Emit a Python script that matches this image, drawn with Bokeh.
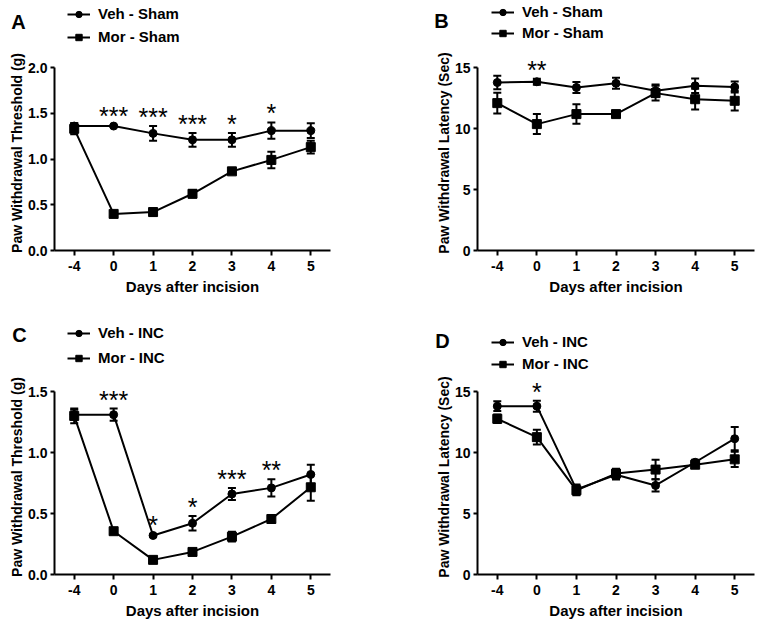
from bokeh.plotting import figure
from bokeh.models import (ColumnDataSource, Whisker, TeeHead, Legend, LegendItem, Label,
                          FactorRange, Range1d, FixedTicker, NumeralTickFormatter)
from bokeh.layouts import column, row
from bokeh.embed import file_html
from bokeh.resources import INLINE
from bokeh.core.properties import value

days = ["-4", "0", "1", "2", "3", "4", "5"]

# Panel A: Paw withdrawal threshold (g), sham
a_veh = [1.36, 1.36, 1.28, 1.21, 1.21, 1.31, 1.31]
a_veh_sem = [0.03, 0.01, 0.08, 0.075, 0.075, 0.09, 0.08]
a_mor = [1.33, 0.40, 0.42, 0.62, 0.865, 0.99, 1.13]
a_mor_sem = [0.06, 0.03, 0.04, 0.04, 0.02, 0.09, 0.07]
a_stars = ["", "***", "***", "***", "*", "*", ""]

# Panel B: Paw withdrawal latency (Sec), sham
b_veh = [13.77, 13.83, 13.36, 13.70, 13.10, 13.50, 13.40]
b_veh_sem = [0.55, 0.25, 0.45, 0.45, 0.50, 0.60, 0.45]
b_mor = [12.08, 10.36, 11.18, 11.18, 12.90, 12.40, 12.27]
b_mor_sem = [0.86, 0.82, 0.80, 0.25, 0.60, 0.85, 0.80]
b_stars = ["", "**", "", "", "", "", ""]

# Panel C: Paw withdrawal threshold (g), incision
c_veh = [1.31, 1.31, 0.32, 0.42, 0.66, 0.71, 0.82]
c_veh_sem = [0.04, 0.05, 0.01, 0.06, 0.05, 0.07, 0.08]
c_mor = [1.30, 0.355, 0.12, 0.185, 0.31, 0.455, 0.715]
c_mor_sem = [0.06, 0.02, 0.015, 0.025, 0.04, 0.03, 0.11]
c_stars = ["", "***", "*", "*", "***", "**", ""]

# Panel D: Paw withdrawal latency (Sec), incision
d_veh = [13.80, 13.80, 6.98, 8.18, 7.30, 9.20, 11.13]
d_veh_sem = [0.40, 0.45, 0.40, 0.40, 0.50, 0.20, 0.95]
d_mor = [12.76, 11.26, 6.90, 8.27, 8.60, 9.00, 9.44]
d_mor_sem = [0.35, 0.60, 0.40, 0.40, 0.80, 0.20, 0.62]
d_stars = ["", "*", "", "", "", "", ""]

sham_names = ["Veh - Sham", "Mor - Sham"]
inc_names = ["Veh - INC", "Mor - INC"]

FONT = "Liberation Sans"
W = 762
AXIS_PX = 183      # pixel length of the drawn y axis (0 .. ymax)
HEADROOM_PX = 12   # room above the axis top for significance stars


def panel(ylabel, ymax, yticks, fmt, veh, veh_sem, mor, mor_sem, stars,
          frame_w, bl, br, bt, bb):
    top = ymax * (AXIS_PX + HEADROOM_PX) / AXIS_PX
    p = figure(x_range=FactorRange(*days), y_range=Range1d(0, top),
               frame_width=frame_w, frame_height=AXIS_PX + HEADROOM_PX,
               min_border_left=bl, min_border_right=br,
               min_border_top=bt, min_border_bottom=bb,
               output_backend="svg", toolbar_location=None)
    p.outline_line_color = None
    p.grid.visible = False

    for ax in (p.xaxis[0], p.yaxis[0]):
        ax.axis_line_width = 2
        ax.axis_line_color = "black"
        ax.major_tick_line_width = 2
        ax.major_tick_line_color = "black"
        ax.major_tick_in = 0
        ax.minor_tick_line_color = None
        ax.major_label_text_font = FONT
        ax.major_label_text_font_style = "bold"
        ax.major_label_text_font_size = "14px"
        ax.major_label_text_color = "black"
        ax.axis_label_text_font = FONT
        ax.axis_label_text_font_style = "bold"
        ax.axis_label_text_color = "black"
    p.xaxis.axis_label_text_font_size = "15px"
    p.yaxis.axis_label_text_font_size = "14px"
    p.xaxis.major_tick_out = 5
    p.xaxis.major_label_standoff = 5
    p.xaxis.axis_label_standoff = 4
    p.xaxis.axis_label = "Days after incision"
    p.yaxis.major_tick_out = 4
    p.yaxis.major_label_standoff = 3
    p.yaxis.axis_label_standoff = 0
    p.yaxis.axis_label = ylabel
    p.yaxis.ticker = FixedTicker(ticks=yticks)
    p.yaxis.formatter = NumeralTickFormatter(format=fmt)
    p.yaxis.bounds = (0, ymax)

    src = ColumnDataSource(dict(
        x=days, veh=veh, mor=mor,
        veh_lo=[v - s for v, s in zip(veh, veh_sem)],
        veh_hi=[v + s for v, s in zip(veh, veh_sem)],
        mor_lo=[v - s for v, s in zip(mor, mor_sem)],
        mor_hi=[v + s for v, s in zip(mor, mor_sem)],
        stars=stars,
    ))

    for lo, hi in (("veh_lo", "veh_hi"), ("mor_lo", "mor_hi")):
        w = Whisker(base="x", lower=lo, upper=hi, source=src,
                    line_color="black", line_width=2,
                    upper_head=TeeHead(size=8, line_width=2, line_color="black"),
                    lower_head=TeeHead(size=8, line_width=2, line_color="black"))
        w.level = "glyph"
        p.add_layout(w)

    p.line("x", "veh", source=src, line_color="black", line_width=2)
    p.scatter("x", "veh", source=src, marker="circle", size=8,
              fill_color="black", line_color="black")
    p.line("x", "mor", source=src, line_color="black", line_width=2)
    p.scatter("x", "mor", source=src, marker="square", size=9,
              fill_color="black", line_color="black")

    p.text("x", "veh_hi", text="stars", source=src, text_align="center",
           text_baseline="alphabetic", text_font=value(FONT), y_offset=-9,
           text_font_size="25px", text_color="black")
    return p


def header(h, entries):
    """Strip above a row of panels holding the panel letters and legends."""
    hp = figure(width=W, height=h, x_range=Range1d(0, W), y_range=Range1d(0, h),
                x_axis_type=None, y_axis_type=None, min_border=0,
                min_border_left=0, min_border_right=0, min_border_top=0,
                min_border_bottom=0, output_backend="svg", toolbar_location=None)
    hp.outline_line_color = None
    hp.grid.visible = False
    # legend-only renderers (nothing drawn in the strip itself)
    proxy = ColumnDataSource(dict(x=[float("nan")], y=[float("nan")]))
    for letter, letter_xy, names, legend_xy, spacing in entries:
        l1 = hp.line("x", "y", source=proxy, line_color="black", line_width=2)
        s1 = hp.scatter("x", "y", source=proxy, marker="circle", size=8,
                        fill_color="black", line_color="black")
        l2 = hp.line("x", "y", source=proxy, line_color="black", line_width=2)
        s2 = hp.scatter("x", "y", source=proxy, marker="square", size=9,
                        fill_color="black", line_color="black")
        legend = Legend(items=[LegendItem(label=names[0], renderers=[l1, s1]),
                               LegendItem(label=names[1], renderers=[l2, s2])],
                        location=legend_xy, orientation="vertical",
                        padding=0, margin=0, spacing=spacing,
                        glyph_width=23, glyph_height=16, label_height=16,
                        label_standoff=8, border_line_color=None,
                        background_fill_alpha=0,
                        label_text_font=FONT, label_text_font_style="bold",
                        label_text_font_size="15px", label_text_color="black")
        hp.add_layout(legend)
        hp.add_layout(Label(x=letter_xy[0], y=letter_xy[1], x_units="screen",
                            y_units="screen", text=letter, text_font=FONT,
                            text_font_style="bold", text_font_size="20px",
                            text_align="center", text_baseline="middle",
                            text_color="black"))
    return hp


pa = panel("Paw Withdrawal Threshold (g)", 2.0, [0, 0.5, 1.0, 1.5, 2.0], "0.0",
           a_veh, a_veh_sem, a_mor, a_mor_sem, a_stars, 276, 54, 51, 3, 65)
pb = panel("Paw Withdrawal Latency (Sec)", 15, [0, 5, 10, 15], "0",
           b_veh, b_veh_sem, b_mor, b_mor_sem, b_stars, 277, 96, 8, 1, 67)
pc = panel("Paw Withdrawal Threshold (g)", 1.5, [0, 0.5, 1.0, 1.5], "0.0",
           c_veh, c_veh_sem, c_mor, c_mor_sem, c_stars, 276, 54, 51, 3, 57)
pd_ = panel("Paw Withdrawal Latency (Sec)", 15, [0, 5, 10, 15], "0",
            d_veh, d_veh_sem, d_mor, d_mor_sem, d_stars, 277, 96, 8, 4, 56)

h1 = header(52, [("A", (18, 30.5), sham_names, (67, 7), 6),
                 ("B", (441, 32), sham_names, (491, 11), 4)])
h2 = header(60, [("C", (19, 41), inc_names, (67, 9), 8),
                 ("D", (442, 35), inc_names, (491, 3), 5)])

layout = column(h1, row(pa, pb), h2, row(pc, pd_))
open("out.html", "w").write(file_html(layout, INLINE))
